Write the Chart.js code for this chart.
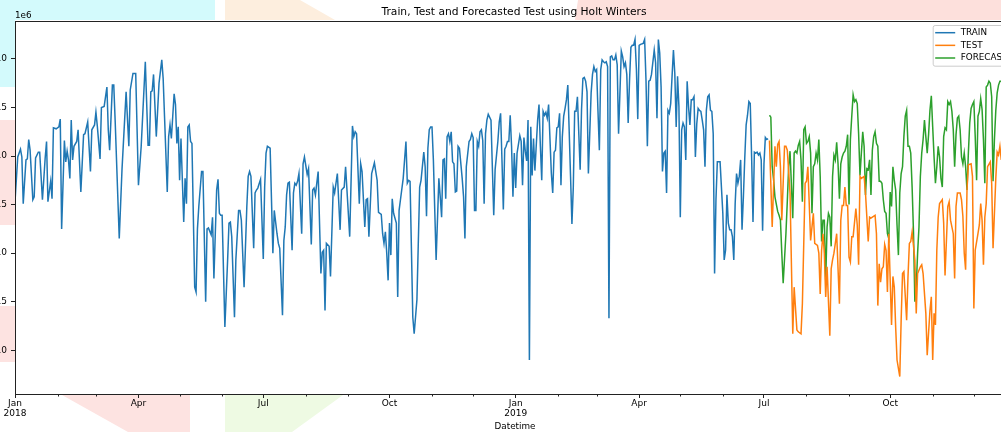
<!DOCTYPE html>
<html><head><meta charset="utf-8">
<script src="https://cdn.jsdelivr.net/npm/chart.js@4.4.1/dist/chart.umd.min.js"></script>
<style>
html,body{margin:0;padding:0;background:#fff;overflow:hidden;width:1001px;height:432px;}
#bg{position:absolute;left:0;top:0;}
#wrap{position:absolute;left:-40px;top:0;width:1080px;height:432px;}
canvas{display:block;}
</style></head><body>
<canvas id="bg" width="1001" height="432"></canvas>
<div id="wrap"><canvas id="c" width="1080" height="432"></canvas></div>
<script>
// Day offsets counted from 2018-01-01; values in units of 1e6
const START = Date.UTC(2018, 0, 1);
const LAST_DAY = 729; // 2019-12-31

const trainPoints = [
[0,2.53],[2,2.99],[4,3.07],[5,2.99],[6,2.51],[8,2.96],[9,2.97],[10,3.17],[11,3.06],[13,2.55],
[14,2.58],[15,2.98],[17,3.04],[18,3.04],[20,2.55],[22,2.98],[23,3.15],[24,2.53],[26,2.74],[27,2.56],
[28,3.29],[30,3.28],[32,3.30],[33,3.38],[34,2.25],[36,3.16],[37,2.94],[38,3.05],[39,2.96],[40,2.77],
[41,3.37],[42,2.96],[43,3.10],[45,3.15],[46,3.27],[48,2.63],[50,3.22],[51,3.23],[53,3.35],[55,2.84],
[56,3.27],[58,3.32],[59,3.45],[60,3.31],[62,2.97],[63,3.50],[65,3.51],[67,3.71],[68,3.27],[69,3.06],
[71,3.73],[72,3.73],[73,3.37],[76,2.15],[78,2.86],[81,3.66],[83,3.10],[84,3.68],[86,3.85],[88,3.85],
[90,2.70],[92,3.10],[95,3.97],[97,3.11],[98,3.11],[99,3.66],[100,3.67],[101,3.84],[103,3.20],[105,3.75],
[107,3.99],[108,3.80],[109,3.41],[111,2.63],[112,3.20],[113,3.32],[114,3.18],[116,3.64],[117,3.53],[118,3.13],
[119,3.30],[120,2.75],[121,3.18],[123,2.32],[124,2.77],[125,2.51],[126,3.30],[127,3.32],[128,3.15],[129,3.13],
[131,1.65],[132,1.60],[133,2.25],[134,2.48],[136,2.84],[137,2.84],[139,1.50],[140,2.25],[141,2.26],[143,2.19],
[144,2.37],[145,1.74],[147,2.65],[148,2.76],[149,2.41],[150,2.39],[151,2.39],[153,1.24],[155,1.93],[156,2.31],
[157,2.32],[158,2.17],[160,1.34],[161,1.93],[163,2.44],[164,2.44],[165,2.34],[167,1.65],[169,2.48],[170,2.79],
[171,2.84],[172,2.79],[174,2.05],[175,2.62],[176,2.65],[177,2.67],[179,2.76],[181,1.94],[182,2.68],[183,3.03],
[184,3.10],[186,3.08],[188,2.00],[189,2.44],[191,2.20],[192,2.10],[193,2.05],[195,1.36],[196,2.13],[197,2.27],
[198,2.60],[199,2.72],[200,2.73],[202,2.03],[203,2.62],[204,2.72],[205,2.70],[206,2.74],[207,2.82],[209,2.20],
[210,2.92],[211,2.99],[213,2.81],[214,2.87],[216,2.09],[217,2.65],[218,2.67],[219,2.60],[221,2.84],[223,1.79],
[224,2.01],[225,2.03],[226,1.41],[227,2.10],[229,2.07],[230,1.76],[232,2.68],[233,2.62],[235,2.82],[237,2.24],
[238,2.65],[240,2.68],[241,2.89],[244,2.17],[246,3.31],[247,3.20],[248,3.25],[249,3.23],[251,2.51],[252,2.92],
[253,2.84],[255,2.27],[256,2.55],[257,2.56],[258,2.17],[260,2.82],[262,2.93],[263,2.84],[264,2.75],[265,2.42],
[267,2.40],[268,2.20],[269,2.10],[270,2.22],[271,2.00],[272,1.72],[273,2.31],[274,1.98],[275,2.56],[276,2.41],
[278,2.31],[279,1.55],[280,2.44],[281,2.55],[283,2.77],[285,3.15],[286,2.72],[287,2.75],[288,2.74],[290,1.34],
[291,1.17],[293,1.52],[295,2.68],[296,2.75],[298,3.04],[299,2.89],[300,2.38],[301,3.08],[302,3.27],[303,3.30],
[304,3.30],[305,2.96],[307,1.93],[309,2.77],[310,2.58],[311,2.37],[312,2.96],[313,2.97],[314,2.56],[315,3.20],
[316,3.23],[317,3.15],[318,3.25],[319,2.94],[320,2.92],[321,2.63],[322,2.64],[323,3.10],[324,3.08],[326,2.77],
[327,2.58],[328,2.15],[329,2.89],[331,3.15],[332,3.17],[333,3.23],[334,3.19],[335,2.44],[336,2.44],[337,3.15],
[338,3.10],[339,3.25],[340,3.27],[341,3.16],[342,2.51],[343,3.23],[344,3.37],[345,3.43],[347,3.37],[349,2.39],
[350,2.86],[352,3.15],[353,3.35],[354,3.44],[355,2.96],[356,2.45],[357,3.07],[358,3.10],[359,3.15],[360,3.15],
[361,3.42],[362,3.10],[363,2.58],[364,3.03],[365,2.67],[366,3.03],[368,3.21],[369,3.15],[370,2.70],[371,3.19],
[372,3.05],[373,2.95],[374,3.37],[375,0.90],[376,3.30],[377,2.80],[378,3.18],[379,2.85],[380,3.11],[381,3.37],
[382,3.53],[383,3.10],[384,2.75],[385,3.46],[386,3.42],[387,3.45],[388,3.39],[389,3.53],[391,2.82],[392,2.62],
[393,3.04],[394,3.06],[395,3.29],[396,3.30],[397,3.44],[398,2.70],[399,3.20],[400,3.41],[401,3.49],[402,3.58],
[403,3.73],[405,2.79],[406,2.30],[407,2.68],[408,3.46],[409,3.46],[410,3.61],[412,2.86],[413,3.48],[414,3.80],
[415,3.81],[416,3.77],[417,3.66],[418,2.82],[420,3.65],[421,3.84],[422,3.92],[423,3.87],[424,3.89],[425,3.46],
[426,3.06],[427,3.89],[428,3.99],[429,3.97],[430,3.96],[431,3.97],[432,3.92],[433,1.33],[434,4.02],[435,4.03],
[436,3.99],[437,3.99],[438,4.04],[439,3.94],[440,3.23],[442,4.08],[443,4.02],[444,3.92],[445,3.96],[446,3.84],
[447,3.34],[448,3.78],[449,4.12],[450,4.14],[451,4.14],[452,4.20],[453,3.90],[454,3.38],[455,4.14],[456,4.15],
[458,4.16],[459,4.20],[460,3.78],[461,3.10],[462,3.77],[463,3.78],[464,3.84],[466,4.09],[467,3.96],[468,3.39],
[469,4.20],[470,4.06],[471,3.71],[472,2.84],[473,3.03],[474,3.05],[475,2.62],[476,3.47],[477,3.44],[478,3.54],
[479,3.82],[480,4.09],[481,3.85],[482,3.30],[483,3.82],[484,3.51],[485,2.37],[486,3.27],[487,3.34],[488,3.30],
[489,2.96],[490,3.77],[491,3.51],[492,3.32],[493,3.58],[494,3.58],[495,3.61],[496,2.99],[497,3.33],[498,3.49],
[499,3.47],[500,3.46],[501,3.37],[502,3.27],[503,2.89],[504,3.47],[505,3.61],[506,3.63],[507,3.47],[508,3.46],
[509,3.23],[510,1.79],[511,2.55],[512,2.94],[513,2.94],[514,2.94],[516,2.41],[517,1.93],[518,2.03],[519,2.60],
[520,2.31],[521,2.24],[522,2.24],[523,2.17],[524,1.93],[525,2.51],[526,2.82],[527,2.72],[528,2.79],[529,2.96],
[530,2.24],[531,2.58],[532,2.98],[533,3.32],[534,3.42],[535,3.56],[536,3.54],[537,2.99],[538,2.32],[539,3.04],
[540,3.03],[541,3.04],[542,3.01],[543,3.03],[544,2.96],[545,2.23],[546,2.92],[547,3.19],[548,3.17],[549,3.18]
];

const testPoints = [
[550,3.16],[552,2.27],[554,3.10],[555,2.89],[556,3.12],[557,3.15],[558,2.89],[559,2.34],[561,3.10],[562,3.10],
[563,3.06],[565,2.62],[567,1.17],[568,1.65],[570,1.21],[571,1.19],[573,1.17],[574,1.48],[576,2.72],[577,2.74],
[578,2.89],[580,2.13],[582,2.41],[583,2.10],[585,2.08],[586,2.00],[587,1.58],[588,2.03],[589,2.20],[590,2.00],
[591,1.55],[592,1.86],[594,1.15],[595,1.84],[596,1.93],[597,2.00],[599,2.20],[601,1.48],[602,2.34],[603,2.49],
[604,2.49],[605,2.68],[606,2.49],[607,2.49],[608,1.96],[609,1.91],[610,2.17],[611,2.17],[613,2.46],[614,2.29],
[615,1.88],[616,2.79],[617,2.77],[619,2.79],[620,2.62],[622,2.12],[623,2.37],[624,2.36],[625,2.37],[627,2.39],
[628,2.20],[629,1.46],[630,1.89],[631,1.70],[632,1.84],[633,1.86],[634,2.09],[635,2.03],[636,1.60],[637,2.20],
[639,1.26],[640,1.76],[641,1.65],[642,1.24],[643,0.90],[645,0.73],[646,1.31],[647,1.79],[648,1.81],[650,1.31],
[651,1.76],[652,2.10],[653,2.12],[654,2.22],[656,1.93],[657,1.38],[658,1.79],[660,1.86],[661,1.88],[662,1.79],
[664,1.38],[665,0.95],[667,1.41],[668,1.55],[669,0.90],[670,1.38],[671,1.26],[672,2.03],[673,2.37],[674,2.51],
[676,2.55],[677,2.31],[678,1.77],[680,2.48],[681,2.53],[682,2.34],[684,2.20],[685,1.74],[686,2.48],[687,2.62],
[689,2.62],[690,2.55],[691,2.38],[692,2.00],[693,1.83],[694,2.65],[695,2.91],[697,2.92],[698,2.79],[699,1.43],
[700,2.03],[702,2.20],[703,2.29],[704,2.51],[705,2.34],[706,1.88],[707,2.37],[708,2.51],[709,2.89],[711,2.94],
[712,2.72],[713,2.05],[715,2.77],[716,3.04],[717,3.01],[718,3.10],[719,2.96]
];

const forecastPoints = [
[550,3.42],[551,3.40],[552,2.89],[553,2.76],[554,2.58],[556,2.43],[557,2.39],[558,2.34],[559,2.00],[560,1.69],
[562,2.20],[563,2.53],[564,2.89],[565,3.05],[567,2.36],[568,3.03],[569,3.05],[570,3.03],[571,3.11],[572,3.15],
[573,2.96],[574,2.53],[575,3.27],[576,3.30],[577,3.13],[578,3.15],[579,3.20],[580,3.03],[581,2.41],[582,2.89],
[583,2.92],[584,3.03],[585,2.96],[586,3.17],[587,2.79],[588,2.12],[589,2.34],[590,2.34],[591,1.72],[592,2.27],
[593,2.41],[594,2.37],[595,2.07],[596,2.79],[597,3.01],[598,2.96],[599,3.14],[600,2.92],[601,2.56],[602,2.92],
[603,2.99],[604,3.03],[605,3.05],[606,3.10],[607,3.22],[608,2.50],[609,3.17],[610,3.41],[611,3.63],[612,3.56],
[613,3.58],[614,3.54],[615,3.23],[616,2.80],[617,3.03],[618,3.25],[619,3.10],[620,2.60],[621,2.87],[622,2.86],
[623,2.96],[624,2.60],[625,3.06],[626,3.20],[627,3.25],[628,3.13],[629,3.10],[630,2.74],[631,2.74],[632,2.72],
[633,2.55],[634,2.43],[635,2.41],[636,2.20],[637,2.15],[638,2.63],[639,2.48],[640,2.89],[641,2.75],[642,2.65],
[643,2.29],[644,1.98],[645,2.62],[646,2.82],[647,2.89],[648,3.20],[649,3.41],[650,3.47],[651,3.10],[652,3.10],
[653,3.03],[654,2.68],[655,2.22],[656,1.50],[657,1.65],[658,2.00],[659,2.27],[660,2.79],[661,3.03],[662,3.17],
[663,3.37],[664,3.20],[665,3.03],[666,3.22],[667,3.47],[668,3.62],[669,3.30],[670,2.99],[671,2.72],[672,2.89],
[673,3.10],[674,2.99],[675,2.77],[676,2.68],[677,3.20],[678,3.29],[679,3.27],[680,3.56],[681,3.53],[682,3.56],
[683,3.46],[684,3.27],[685,2.89],[686,3.22],[687,3.39],[688,3.41],[689,3.27],[690,2.99],[691,2.92],[692,3.03],
[693,2.89],[694,2.65],[695,3.03],[696,3.34],[697,3.49],[698,3.53],[699,3.56],[700,3.20],[701,2.75],[702,3.41],
[703,3.46],[704,3.59],[705,3.48],[706,3.17],[707,2.72],[708,3.71],[709,3.73],[710,3.77],[711,3.75],[712,3.61],
[713,2.74],[714,3.17],[715,3.47],[716,3.65],[717,3.73],[718,3.77],[719,3.77]
];

const seriesNames = ['TRAIN', 'TEST', 'FORECAST'];
const seriesColors = ['#1f77b4', '#ff7f0e', '#2ca02c'];
const yTickValues = [1.0, 1.5, 2.0, 2.5, 3.0, 3.5, 4.0];
const monthNames = ['Jan','Feb','Mar','Apr','May','Jun','Jul','Aug','Sep','Oct','Nov','Dec'];
const majorMonths = [0, 3, 6, 9];
const titleText = 'Train, Test and Forecasted Test using Holt Winters';
const xAxisLabel = 'Datetime';
const offsetText = '1e6';

// faint pastel patches seen in the figure margins (page background, not data)
const bgPatches = [
  { c: '#d3fafc', p: [[0,0],[215,0],[215,20],[0,20]] },
  { c: '#d3fafc', p: [[0,20],[15,20],[15,87],[0,87]] },
  { c: '#fde3e1', p: [[0,120],[15,120],[15,225],[0,225]] },
  { c: '#fde3e1', p: [[0,306],[15,306],[15,362],[0,362]] },
  { c: '#fdeede', p: [[225,0],[300,0],[335,20],[225,20]] },
  { c: '#fde0dc', p: [[578,0],[1001,0],[1001,20],[575,20]] },
  { c: '#fde3e1', p: [[62,395],[190,395],[190,432],[128,432]] },
  { c: '#eefae3', p: [[225,395],[343,395],[292,432],[225,432]] }
];

(function drawBg() {
  const g = document.getElementById('bg').getContext('2d');
  bgPatches.forEach(s => {
    g.fillStyle = s.c; g.beginPath();
    s.p.forEach((q, i) => i ? g.lineTo(q[0], q[1]) : g.moveTo(q[0], q[1]));
    g.closePath(); g.fill();
  });
})();

const DAY = 86400000;
const monthStarts = [];
for (let y = 2018; y <= 2019; y++) for (let m = 0; m < 12; m++) {
  monthStarts.push({ day: (Date.UTC(y, m, 1) - START) / DAY, y, m });
}
const majorTicks = monthStarts.filter(t => majorMonths.includes(t.m));
const minorTicks = monthStarts.filter(t => !majorMonths.includes(t.m));

const FONT = '"DejaVu Sans", sans-serif';
const toXY = arr => arr.map(p => ({ x: p[0], y: p[1] }));

const decor = {
  id: 'decor',
  beforeDraw(chart) {
    const { ctx, chartArea: a } = chart;
    ctx.save(); ctx.fillStyle = '#fff';
    ctx.fillRect(a.left, a.top, a.right - a.left, a.bottom - a.top);
    ctx.restore();
  },
  afterDatasetsDraw(chart) {
    const { ctx, chartArea: a, scales } = chart;
    ctx.save();
    ctx.strokeStyle = '#222'; ctx.lineWidth = 1;
    ctx.strokeRect(Math.round(a.left) + 0.5, Math.round(a.top) + 0.5, Math.round(a.right - a.left), Math.round(a.bottom - a.top));
    ctx.beginPath();
    minorTicks.forEach(t => {
      const px = Math.round(scales.x.getPixelForValue(t.day)) + 0.5;
      ctx.moveTo(px, a.bottom); ctx.lineTo(px, a.bottom + 2.5);
    });
    ctx.stroke();
    const bx = a.right - 82.3, by = a.top + 4, bw = 78.3, bh = 40.7;
    ctx.fillStyle = 'rgba(255,255,255,0.8)';
    ctx.strokeStyle = '#cccccc';
    ctx.beginPath();
    if (ctx.roundRect) ctx.roundRect(bx + 0.5, by + 0.5, bw, bh, 2); else ctx.rect(bx + 0.5, by + 0.5, bw, bh);
    ctx.fill(); ctx.stroke();
    ctx.font = '8.8px ' + FONT;
    ctx.textBaseline = 'middle';
    ctx.textAlign = 'left';
    seriesNames.forEach((n, i) => {
      const yy = by + 7.7 + i * 12.65;
      ctx.strokeStyle = seriesColors[i]; ctx.lineWidth = 1.5;
      ctx.beginPath(); ctx.moveTo(bx + 2.5, yy); ctx.lineTo(bx + 22.5, yy); ctx.stroke();
      ctx.fillStyle = '#000';
      ctx.fillText(n, bx + 28, yy);
    });
    ctx.restore();
  },
  afterDraw(chart) {
    const { ctx, chartArea: a } = chart;
    ctx.save();
    ctx.fillStyle = '#000';
    ctx.textBaseline = 'middle';
    ctx.textAlign = 'center';
    ctx.font = '10.7px ' + FONT;
    ctx.fillText(titleText, (a.left + a.right) / 2 - 1, 12.7);
    ctx.font = '8.8px ' + FONT;
    ctx.fillText(xAxisLabel, (a.left + a.right) / 2, 426.5);
    ctx.textAlign = 'left';
    ctx.fillText(offsetText, a.left, a.top - 5.5);
    ctx.restore();
  }
};

new Chart(document.getElementById('c'), {
  type: 'line',
  data: {
    datasets: [trainPoints, testPoints, forecastPoints].map((pts, i) => ({
      label: seriesNames[i],
      data: toXY(pts),
      borderColor: seriesColors[i],
      backgroundColor: seriesColors[i],
      borderWidth: 1.5,
      pointRadius: 0,
      tension: 0,
      fill: false
    }))
  },
  options: {
    responsive: false,
    devicePixelRatio: 1,
    animation: false,
    events: [],
    layout: { padding: { left: 0, right: 25, top: 21, bottom: 0 } },
    plugins: { legend: { display: false }, title: { display: false }, tooltip: { enabled: false } },
    scales: {
      x: {
        type: 'linear',
        min: 0, max: LAST_DAY,
        afterBuildTicks: s => { s.ticks = majorTicks.map(t => ({ value: t.day })); },
        afterFit: s => { s.height = 38; },
        ticks: {
          autoSkip: false, maxRotation: 0, padding: 1,
          color: '#000', font: { family: FONT, size: 9, lineHeight: 1.1 },
          callback: v => {
            const t = majorTicks.find(q => q.day === v);
            if (!t) return '';
            return t.m === 0 ? [monthNames[t.m], String(t.y)] : monthNames[t.m];
          }
        },
        grid: { drawOnChartArea: false, drawTicks: true, tickLength: 4, tickColor: '#222', tickWidth: 1 },
        border: { display: false }
      },
      y: {
        min: 0.55, max: 4.39,
        afterBuildTicks: s => { s.ticks = yTickValues.map(v => ({ value: v })); },
        afterFit: s => { s.width = 55; },
        ticks: { color: '#000', padding: 4, font: { family: FONT, size: 9 }, callback: v => v.toFixed(1) },
        grid: { drawOnChartArea: false, drawTicks: true, tickLength: 4, tickColor: '#222', tickWidth: 1 },
        border: { display: false }
      }
    }
  },
  plugins: [decor]
});
</script></body></html>
